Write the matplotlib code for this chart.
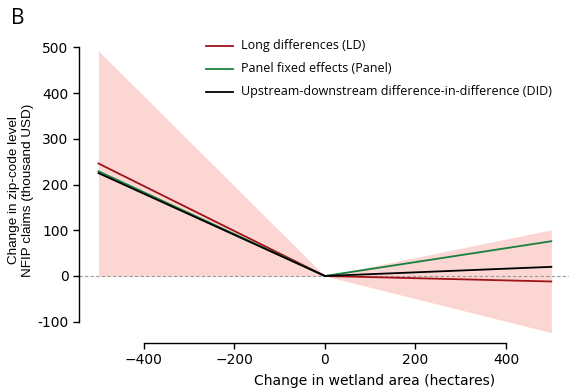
import numpy as np
import matplotlib.pyplot as plt
from matplotlib.lines import Line2D

# wetland change (hectares) and predicted change in claims (thousand USD)
area = np.array([-500, 0, 500])
ld_claims = np.array([246, 0, -12])
panel_claims = np.array([229, 0, 76])
did_claims = np.array([225, 0, 20])
ci_low = np.array([0, 0, -124])
ci_high = np.array([492, 0, 101])

series = [
    ('Long differences (LD)', ld_claims, '#a01218'),
    ('Panel fixed effects (Panel)', panel_claims, '#17803f'),
    ('Upstream-downstream difference-in-difference (DID)', did_claims, '#000000'),
]

W, H = 569, 389
fig = plt.figure(figsize=(W / 100, H / 100), dpi=100)

def px(x, y):
    return x / W, 1 - y / H

# axes placed in pixel coordinates of the reference
x0, y0 = px(79, 343)
x1, y1 = px(569, 40)
ax = fig.add_axes([x0, y0, x1 - x0, y1 - y0])

ax.fill_between(area, ci_low, ci_high, color='#fbd6d3', linewidth=0)
ax.axhline(0, color='#999999', linewidth=0.8, linestyle=(0, (3, 2)))
for label, vals, col in series:
    ax.plot(area, vals, color=col, linewidth=1.3)

ax.set_xlim(-543, 539)
ax.set_ylim(-146.5, 516)
ax.set_xticks([-400, -200, 0, 200, 400])
ax.set_xticklabels(['\u2212400', '\u2212200', '0', '200', '400'])
ax.set_yticks([-100, 0, 100, 200, 300, 400, 500])
ax.set_yticklabels(['-100', '0', '100', '200', '300', '400', '500'])
for s in ['top', 'right']:
    ax.spines[s].set_visible(False)
ax.spines['left'].set_bounds(-100, 500)
ax.spines['bottom'].set_bounds(-400, 400)
for s in ['left', 'bottom']:
    ax.spines[s].set_linewidth(1.0)
ax.tick_params(direction='out', length=4.5, width=1.0, labelsize=10, pad=3)
for t in ax.get_xticklabels() + ax.get_yticklabels():
    t.set_family('DejaVu Sans')

# legend drawn by hand to match the reference placement
for i, (label, vals, col) in enumerate(series):
    yy = 45.7 + i * 23
    fig.add_artist(Line2D([206 / W, 233 / W], [1 - yy / H] * 2, color=col, linewidth=1.3))
    fig.text(*px(241, yy), label, fontsize=9.0, family='Open Sans', va='center', ha='left')

fig.text(*px(21, 190), 'Change in zip-code level\nNFIP claims (thousand USD)', rotation=90,
         ha='center', va='center', fontsize=9.7, family='Liberation Sans', linespacing=1.15)
fig.text(*px(375, 381), 'Change in wetland area (hectares)', ha='center', va='center',
         fontsize=10, family='DejaVu Sans')
fig.text(*px(11, 18), 'B', ha='left', va='center', fontsize=15, family='Open Sans')

fig.savefig('out.png', dpi=100)
